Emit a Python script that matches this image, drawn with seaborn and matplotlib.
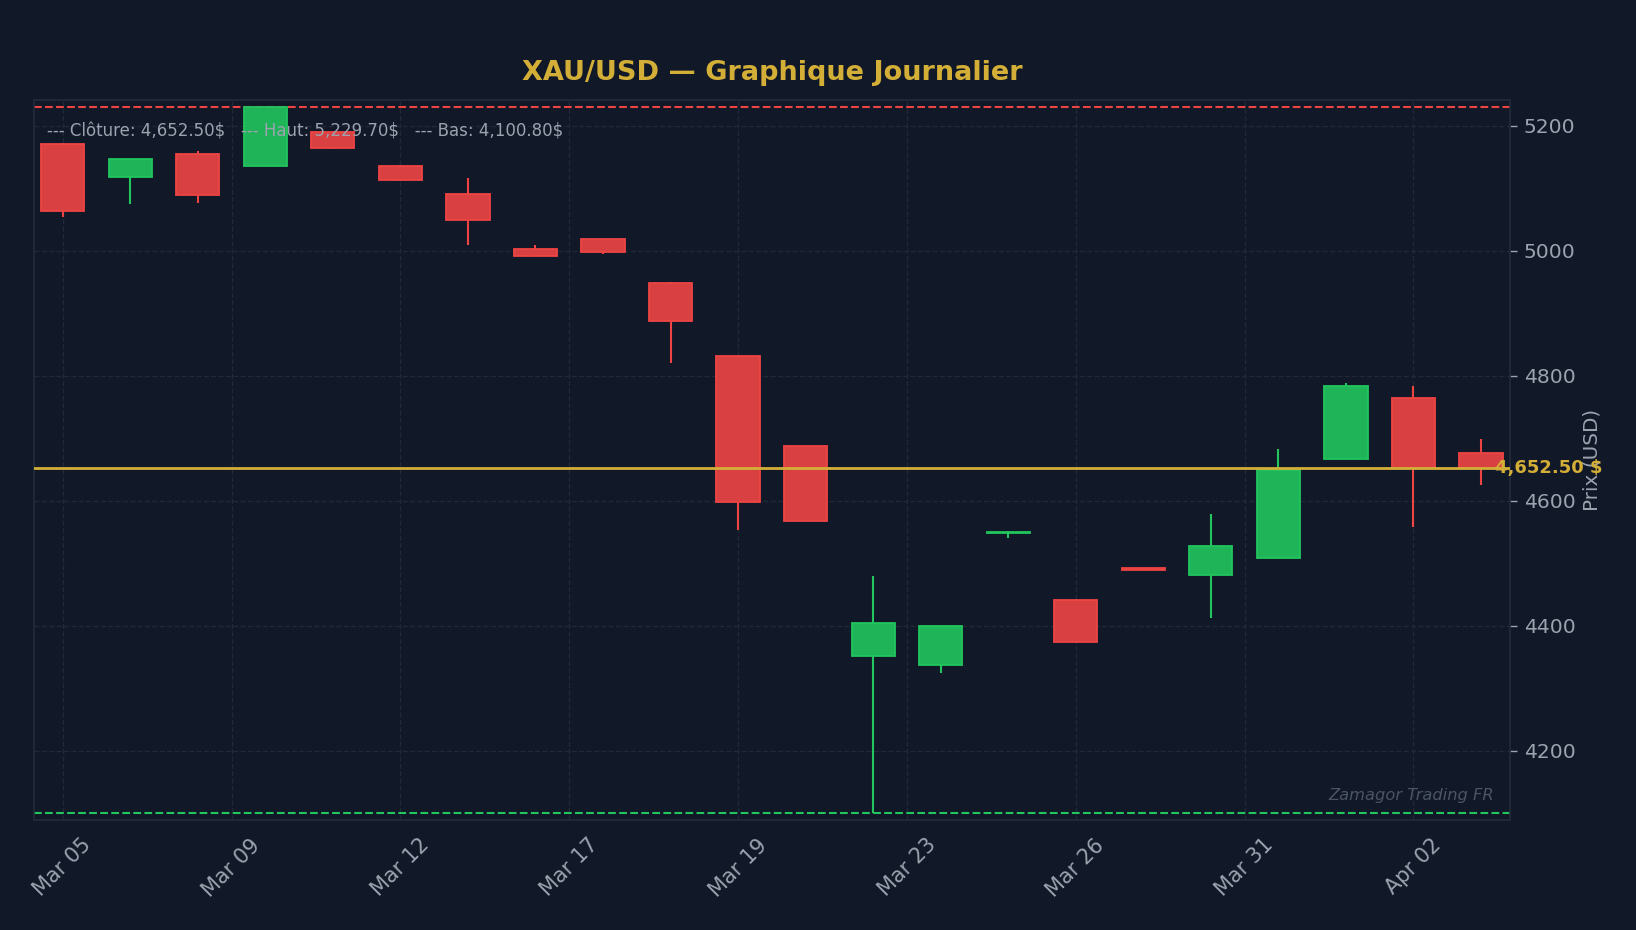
import numpy as np
import pandas as pd
import matplotlib
matplotlib.use("Agg")
import matplotlib.pyplot as plt
from matplotlib.colors import to_rgb
import seaborn as sns

# ---- data ----
dates = ["Mar 05", "Mar 06", "Mar 09", "Mar 10", "Mar 11", "Mar 12", "Mar 13",
         "Mar 16", "Mar 17", "Mar 18", "Mar 19", "Mar 20", "Mar 23", "Mar 24",
         "Mar 25", "Mar 26", "Mar 27", "Mar 30", "Mar 31", "Apr 01", "Apr 02", "Apr 03"]
opens = [5170, 5118, 5155, 5135, 5190, 5136, 5090, 5002, 5019, 4949, 4831,
         4687, 4352, 4338, 4548, 4442, 4492, 4482, 4509, 4667, 4765, 4676]
highs = [5172, 5147, 5159, 5229.7, 5191, 5137, 5116, 5009, 5019, 4950, 4832,
         4688, 4479, 4399, 4551, 4443, 4492, 4579, 4683, 4788, 4783, 4699]
lows = [5054, 5074, 5076, 5135, 5163, 5112, 5009, 4991, 4994, 4821, 4554,
        4567, 4100.8, 4325, 4541, 4373, 4490, 4413, 4509, 4667, 4558, 4625]
closes = [5063, 5146, 5089, 5229.7, 5164, 5113, 5049, 4992, 4998, 4888, 4598,
          4568, 4404, 4399, 4550, 4374, 4490, 4527, 4650, 4783, 4653, 4652.5]

last_close = 4652.50
period_high = 5229.70
period_low = 4100.80

title = "XAU/USD — Graphique Journalier"
ylabel = "Prix (USD)"
watermark = "Zamagor Trading FR"

df = pd.DataFrame({"date": dates, "open": opens, "high": highs,
                   "low": lows, "close": closes})
df["pos"] = np.arange(len(df))

# ---- style ----
BG = "#111827"
GRID = "#1F2937"
TXT = "#9CA3AF"
GREEN = "#22C55E"
RED = "#EF4444"
GOLD = "#D4AF37"

sns.set_theme(style="darkgrid", rc={
    "figure.facecolor": BG,
    "axes.facecolor": BG,
    "axes.edgecolor": "#263041",
    "grid.color": GRID,
    "grid.linestyle": "--",
    "grid.linewidth": 1.0,
    "xtick.color": TXT,
    "ytick.color": TXT,
    "axes.labelcolor": TXT,
    "text.color": TXT,
})
plt.rcParams["font.family"] = ["DejaVu Sans"]


def blend(c, a=0.9):
    c = np.array(to_rgb(c))
    b = np.array(to_rgb(BG))
    return tuple(a * c + (1 - a) * b)


fig = plt.figure(figsize=(16.36, 9.3), dpi=100)
ax = fig.add_axes([0.0206, 0.1183, 0.923 - 0.0206, 0.8925 - 0.1183])

up = df["close"] >= df["open"]
colors = np.where(up, GREEN, RED)

# wicks
ax.vlines(df["pos"], df["low"], df["high"], colors=colors, linewidth=1.5, zorder=2)
# bodies
body_bottom = np.minimum(df["open"], df["close"])
body_height = np.maximum(np.abs(df["close"] - df["open"]), 0.8)
ax.bar(df["pos"], body_height, bottom=body_bottom, width=0.64,
       color=[blend(c) for c in colors], edgecolor=colors,
       linewidth=1.3, zorder=3)

# reference lines
ax.axhline(last_close, color=GOLD, linewidth=2.0, zorder=4)
ax.axhline(period_high, color=RED, linestyle="--", linewidth=1.5, zorder=1.5)
ax.axhline(period_low, color=GREEN, linestyle="--", linewidth=1.5, zorder=1.5)

rng = period_high - period_low
ax.set_ylim(period_low - 0.01 * rng, period_high + 0.01 * rng)
ax.set_xlim(-0.43, len(df) - 1 + 0.43)

# axes formatting
ticks = np.arange(0, len(df), 2.5)
ax.set_xticks(ticks)
ax.set_xticklabels([dates[int(round(t))] for t in ticks], rotation=45, fontsize=15)
ax.set_yticks(np.arange(4200, 5201, 200))
ax.yaxis.tick_right()
ax.yaxis.set_label_position("right")
ax.tick_params(axis="y", labelsize=14.6, length=4.8, width=1, color=TXT, pad=5)
ax.tick_params(axis="x", length=4.8, width=1, color=TXT, pad=6)
ax.set_ylabel(ylabel, fontsize=14.4, color=TXT, labelpad=5)
ax.grid(True, linestyle="--", color=GRID, linewidth=1.0)
for s in ax.spines.values():
    s.set_visible(True)
    s.set_color("#232C3B")
    s.set_linewidth(1.2)

ax.set_title(title, fontsize=19.5, fontweight="bold", color=GOLD, pad=14.5)

info = (f"--- Clôture: {last_close:,.2f}$   --- Haut: {period_high:,.2f}$   "
        f"--- Bas: {period_low:,.2f}$")
ax.text(0.009, 0.956, info, transform=ax.transAxes, fontsize=12,
        color=TXT, ha="left", va="center", zorder=5)

ax.text(0.99, last_close, f"{last_close:,.2f} $",
        transform=ax.get_yaxis_transform(), ha="left", va="center",
        fontsize=13, fontweight="bold", color=GOLD, zorder=6, clip_on=False)

ax.text(0.989, 0.034, watermark, transform=ax.transAxes, ha="right",
        va="center", fontsize=11.7, style="italic", color="#4B5563")

fig.savefig("out.png", dpi=100, facecolor=BG)
